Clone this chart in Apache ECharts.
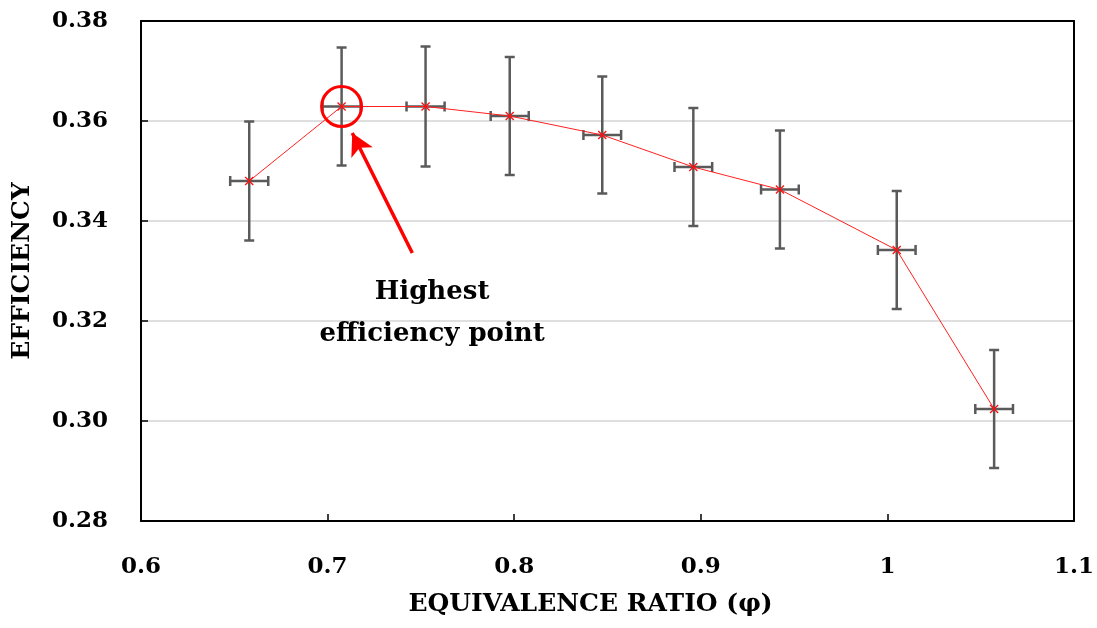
<!DOCTYPE html>
<html>
<head>
<meta charset="utf-8">
<script src="https://cdn.jsdelivr.net/npm/echarts@6/dist/echarts.min.js"></script>
<style>
  html, body { margin: 0; padding: 0; background: #fff; }
  #chart { width: 1097px; height: 628px; }
</style>
</head>
<body>
<div id="chart"></div>
<script>
// equivalence ratio vs efficiency
const phi = [0.658, 0.7075, 0.7525, 0.7976, 0.8472, 0.896, 0.9424, 1.005, 1.0572]
const efficiency = [0.348, 0.3629, 0.3629, 0.361, 0.3572, 0.3508, 0.3463, 0.3342, 0.3024]
const effErr = [0.0119, 0.0118, 0.012, 0.0118, 0.0117, 0.0118, 0.0118, 0.0118, 0.0118]
const phiErr = [0.0102, 0.0102, 0.0102, 0.0102, 0.0101, 0.0101, 0.0101, 0.0101, 0.0101]
const highest = [0.7075, 0.3629]
const arrowFrom = [0.7454, 0.3336]
const arrowTo = [0.7132, 0.3576]
const noteAt = [0.756, 0.3216]
const noteText = 'Highest\nefficiency point'

const serif = '"DejaVu Serif", "Liberation Serif", serif'
const chart = echarts.init(document.getElementById('chart'))

const points = phi.map((x, i) => [x, efficiency[i], effErr[i], phiErr[i]])

function renderErr(params, api) {
  const x = api.value(0), y = api.value(1), ey = api.value(2), ex = api.value(3)
  const top = api.coord([x, y + ey])
  const bot = api.coord([x, y - ey])
  const left = api.coord([x - ex, y])
  const right = api.coord([x + ex, y])
  const cap = 5
  const style = { stroke: '#5a5a5a', lineWidth: 2.5 }
  const line = (x1, y1, x2, y2) => ({ type: 'line', shape: { x1, y1, x2, y2 }, style })
  return {
    type: 'group',
    children: [
      line(top[0], top[1], bot[0], bot[1]),
      line(top[0] - cap, top[1], top[0] + cap, top[1]),
      line(bot[0] - cap, bot[1], bot[0] + cap, bot[1]),
      line(left[0], left[1], right[0], right[1]),
      line(left[0], left[1] - cap, left[0], left[1] + cap),
      line(right[0], right[1] - cap, right[0], right[1] + cap)
    ]
  }
}

// plain frame lines for the top and right edges
const frameX = { type: 'value', min: 0.6, max: 1.1, position: 'top', axisLine: { show: true, lineStyle: { color: '#000', width: 2 } }, axisTick: { show: false }, axisLabel: { show: false }, splitLine: { show: false } }
const frameY = { type: 'value', min: 0.28, max: 0.38, position: 'right', axisLine: { show: true, lineStyle: { color: '#000', width: 2 } }, axisTick: { show: false }, axisLabel: { show: false }, splitLine: { show: false } }

const option = {
  animation: false,
  grid: { left: 141, right: 22, top: 21, bottom: 107 },
  xAxis: [{
    type: 'value', min: 0.6, max: 1.1, interval: 0.1,
    name: 'EQUIVALENCE RATIO (φ)', nameLocation: 'middle', nameGap: 71,
    nameTextStyle: { fontFamily: serif, fontWeight: 'bold', fontSize: 25, color: '#000', padding: [0, 34, 0, 0] },
    axisLine: { show: true, lineStyle: { color: '#000', width: 2 } },
    axisTick: { show: true, inside: true, length: 7, lineStyle: { color: '#000', width: 1.5 } },
    splitLine: { show: false },
    axisLabel: {
      margin: 35, fontFamily: serif, fontWeight: 'bold', fontSize: 23, color: '#000',
      formatter: v => String(parseFloat(v.toFixed(1)))
    }
  }, frameX],
  yAxis: [{
    type: 'value', min: 0.28, max: 0.38, interval: 0.02,
    name: 'EFFICIENCY', nameLocation: 'middle', nameGap: 106,
    nameTextStyle: { fontFamily: serif, fontWeight: 'bold', fontSize: 25, color: '#000' },
    axisLine: { show: true, lineStyle: { color: '#000', width: 2 } },
    axisTick: { show: true, inside: true, length: 7, lineStyle: { color: '#000', width: 1.5 } },
    splitLine: { show: true, lineStyle: { color: '#d4d4d4', width: 1.5 } },
    axisLabel: {
      margin: 33, fontFamily: serif, fontWeight: 'bold', fontSize: 23, color: '#000',
      formatter: v => v.toFixed(2)
    }
  }, frameY],
  series: [
    {
      type: 'custom',
      renderItem: renderErr,
      data: points,
      z: 2
    },
    {
      type: 'line',
      data: points.map(p => [p[0], p[1]]),
      lineStyle: { color: '#ff2020', width: 1 },
      symbol: 'path://M0,1L1,0L5,4L9,0L10,1L6,5L10,9L9,10L5,6L1,10L0,9L4,5Z',
      symbolSize: 9,
      itemStyle: { color: '#ff1010' },
      z: 3,
      markPoint: {
        silent: true,
        data: [{ coord: highest, symbol: 'circle', symbolSize: 40 }],
        itemStyle: { color: 'rgba(0,0,0,0)', borderColor: '#ff0000', borderWidth: 3 },
        label: { show: false }
      },
      markLine: {
        silent: true,
        symbol: ['none', 'arrow'],
        symbolSize: [18, 22],
        lineStyle: { color: '#ff0000', width: 3.5, type: 'solid' },
        label: { show: false },
        data: [[{ coord: arrowFrom }, { coord: arrowTo }]]
      }
    }
  ]
}

chart.setOption(option)

const notePos = chart.convertToPixel({ gridIndex: 0 }, noteAt)
chart.setOption({
  graphic: [{
    type: 'text', x: notePos[0], y: notePos[1], z: 10,
    style: {
      text: noteText, fontFamily: serif, fontWeight: 'bold', fontSize: 26,
      fill: '#000', align: 'center', verticalAlign: 'middle', lineHeight: 42
    }
  }]
})

window.addEventListener('resize', () => chart.resize())
</script>
</body>
</html>
